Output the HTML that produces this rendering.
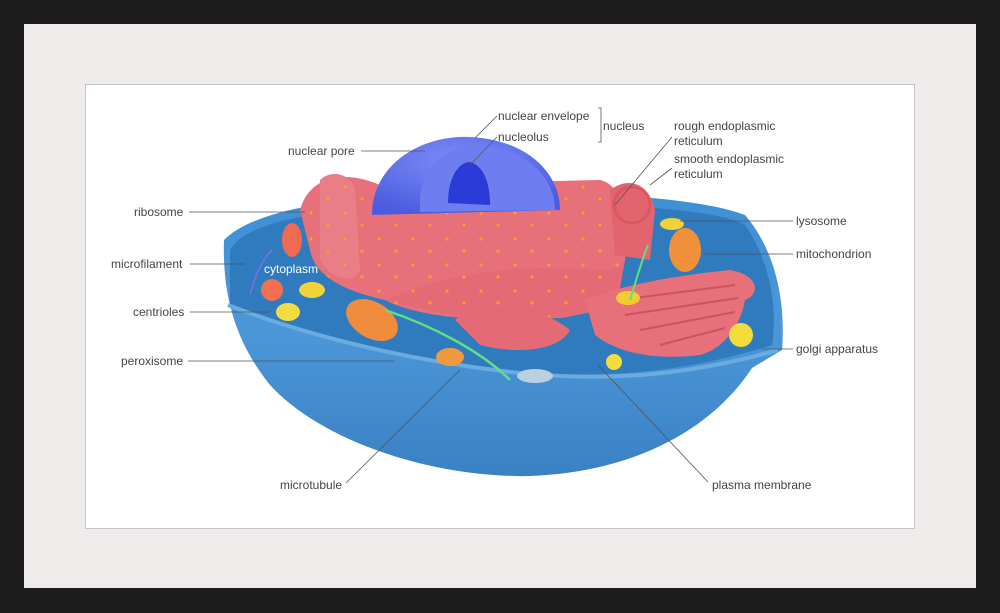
<!DOCTYPE html>
<html><head><meta charset="utf-8"><style>
html,body{margin:0;padding:0;}
body{width:1000px;height:613px;background:#1c1c1c;position:relative;overflow:hidden;font-family:"Liberation Sans",sans-serif;}
.mat{position:absolute;left:24px;top:24px;width:952px;height:564px;background:#eeebea;}
.pic{position:absolute;left:85px;top:84px;width:828px;height:443px;background:#fff;border:1px solid #c4c4c4;}
svg{position:absolute;left:0;top:0;}
text{font-family:"Liberation Sans",sans-serif;font-size:12px;fill:#444;}
</style></head><body>
<div class="mat"></div>
<div class="pic"></div>
<svg width="1000" height="613" viewBox="0 0 1000 613">
<defs>
<linearGradient id="bowl" x1="0" y1="0" x2="0" y2="1">
<stop offset="0" stop-color="#3f8fd6"/><stop offset="0.5" stop-color="#4b97d8"/><stop offset="1" stop-color="#3a80c4"/></linearGradient>
<radialGradient id="nuc" cx="0.45" cy="0.3" r="0.7"><stop offset="0" stop-color="#7d8cf5"/><stop offset="1" stop-color="#4b5ce0"/></radialGradient>
<pattern id="dots" width="34" height="26" patternUnits="userSpaceOnUse"><circle cx="5" cy="5" r="1.6" fill="#f0a030"/><circle cx="22" cy="17" r="1.6" fill="#f0a030"/></pattern>
</defs>
<path d="M224,240 C222,300 238,345 270,385 C320,440 430,478 530,476 C640,472 715,425 752,368 L782,350 C786,300 775,250 745,215 C700,198 600,192 500,193 C380,194 262,202 224,240 Z" fill="url(#bowl)"/>
<path d="M230,250 C250,215 350,205 500,203 C620,203 720,210 745,225 C770,260 778,310 772,345 C700,368 620,380 520,372 C400,360 300,335 230,305 Z" fill="#2f7bbd"/>
<path d="M228,305 C300,333 400,360 520,373 C620,383 700,372 778,350" fill="none" stroke="#6aacdf" stroke-width="4"/>
<g>
<path d="M300,210 C310,175 345,170 380,185 L600,180 C625,185 630,230 625,260 C620,300 590,315 560,318 C480,322 420,318 385,300 C340,290 315,275 310,250 Z" fill="#e8707a"/>
<path d="M320,180 C330,170 350,172 355,190 L360,270 C355,285 330,280 320,260 Z" fill="#ea7e86"/>
<path d="M385,300 C420,285 470,270 540,268 C590,268 620,275 625,260 L618,300 C600,318 520,325 450,315 Z" fill="#e46a75"/>
<path d="M300,210 C310,175 345,170 380,185 L600,180 C625,185 630,230 625,260 C620,300 590,315 560,318 C480,322 420,318 385,300 C340,290 315,275 310,250 Z" fill="url(#dots)"/>
</g>
<path d="M372,215 C372,165 420,135 470,137 C530,140 560,175 560,210 Z" fill="url(#nuc)"/>
<path d="M420,200 C420,170 445,145 480,145 C530,150 555,180 555,210 L420,212 Z" fill="#6e7ef0"/>
<path d="M448,203 C448,175 460,162 470,162 C482,165 490,180 490,205 Z" fill="#2a3bd8"/>
<path d="M610,190 C630,175 650,185 655,210 L650,260 L615,255 Z" fill="#e2646f"/>
<circle cx="632" cy="205" r="18" fill="none" stroke="#d95860" stroke-width="3"/>
<path d="M585,300 C620,285 680,275 730,270 C760,275 760,295 745,300 C740,330 720,350 700,355 C660,360 620,355 595,335 Z" fill="#e8707a"/>
<path d="M620,300 L735,285 M625,315 L738,298 M640,330 L735,312 M660,345 L725,328" stroke="#c9545f" stroke-width="2"/>
<path d="M455,320 C480,300 540,305 570,330 C560,350 520,355 480,345 Z" fill="#e46a75"/>
<ellipse cx="372" cy="320" rx="28" ry="18" fill="#f08c3c" transform="rotate(30 372 320)"/>
<ellipse cx="685" cy="250" rx="16" ry="22" fill="#f0903a"/>
<ellipse cx="292" cy="240" rx="10" ry="17" fill="#f06a50"/>
<circle cx="272" cy="290" r="11" fill="#f07050"/>
<ellipse cx="312" cy="290" rx="13" ry="8" fill="#f2d23a"/>
<ellipse cx="288" cy="312" rx="12" ry="9" fill="#f2dc40"/>
<ellipse cx="672" cy="224" rx="12" ry="6" fill="#f2d23a"/>
<ellipse cx="628" cy="298" rx="12" ry="7" fill="#f2cc30"/>
<circle cx="741" cy="335" r="12" fill="#f4dc3a"/>
<circle cx="614" cy="362" r="8" fill="#f4dc3a"/>
<ellipse cx="450" cy="357" rx="14" ry="9" fill="#f09a40"/>
<ellipse cx="535" cy="376" rx="18" ry="7" fill="#b8d0e0"/>
<path d="M385,310 C430,325 480,350 510,380" stroke="#5ee080" stroke-width="2.5" fill="none"/>
<path d="M648,245 C640,265 635,285 630,300" stroke="#5ee080" stroke-width="2" fill="none"/>
<path d="M250,295 C255,275 262,260 272,250" stroke="#7a6ef0" stroke-width="1.5" fill="none"/>
<g stroke="#555" stroke-width="0.8" fill="none">
<path d="M497,116 L475,138"/><path d="M497,137 L470,165"/>
<path d="M598,108 L601,108 L601,142 L598,142"/>
<path d="M361,151 L425,151"/>
<path d="M672,137 L615,205"/><path d="M672,168 L650,185"/>
<path d="M189,212 L305,212"/>
<path d="M190,264 L245,264"/>
<path d="M190,312 L270,312"/>
<path d="M188,361 L395,361"/>
<path d="M346,483 L460,370"/>
<path d="M708,482 L598,365"/>
<path d="M680,221 L793,221"/>
<path d="M705,254 L793,254"/>
<path d="M762,349 L793,349"/>
</g>
<text x="498" y="120">nuclear envelope</text>
<text x="498" y="141">nucleolus</text>
<text x="603" y="130">nucleus</text>
<text x="674" y="130">rough endoplasmic</text>
<text x="674" y="145">reticulum</text>
<text x="674" y="163">smooth endoplasmic</text>
<text x="674" y="178">reticulum</text>
<text x="288" y="155">nuclear pore</text>
<text x="134" y="216">ribosome</text>
<text x="111" y="268">microfilament</text>
<text x="133" y="316">centrioles</text>
<text x="121" y="365">peroxisome</text>
<text x="280" y="489">microtubule</text>
<text x="712" y="489">plasma membrane</text>
<text x="796" y="225">lysosome</text>
<text x="796" y="258">mitochondrion</text>
<text x="796" y="353">golgi apparatus</text>
<text x="264" y="273" style="fill:#fff">cytoplasm</text>
</svg>
</body></html>
